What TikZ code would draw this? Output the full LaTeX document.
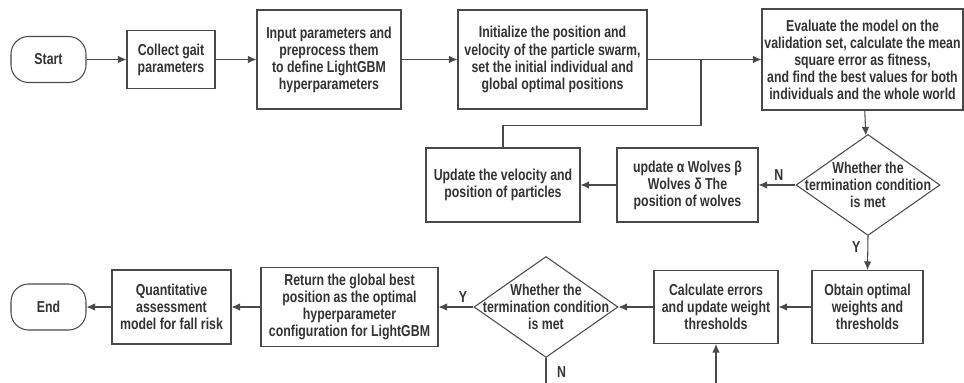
\documentclass[tikz,border=0pt]{standalone}
\usepackage{fontspec}
\setmainfont{Liberation Sans}[FakeStretch=0.78]
\usepackage{tikz}
\usetikzlibrary{arrows.meta,calc,positioning,shapes.geometric}
\definecolor{Ink}{HTML}{333333}
\definecolor{Edge}{HTML}{4A4A4A}

\begin{document}
\begin{tikzpicture}[
      box/.style={draw=Edge,line width=0.6pt,align=center,inner sep=0pt,text=Ink,
        font=\bfseries\fontsize{9}{9.7}\selectfont},
      term/.style={box,rounded corners=10pt,minimum width=1.5cm,minimum height=0.92cm},
      decision/.style={diamond,draw=Edge,line width=0.6pt,inner sep=0pt,
        minimum width=2.88cm,minimum height=2.02cm},
      dtext/.style={align=center,inner sep=0pt,text=Ink,font=\bfseries\fontsize{9}{9.7}\selectfont},
      lbl/.style={text=Ink,inner sep=1pt,font=\bfseries\fontsize{9}{9.7}\selectfont},
      flow/.style={Edge,line width=0.6pt,-{Latex[length=1.7mm,width=1.5mm]}},
      wire/.style={Edge,line width=0.6pt}]
      \useasboundingbox (0,0) rectangle (19.28,-7.66);
      % top row
      \node[term] (start) at (0.97,-1.19) {Start};
      \node[box,minimum width=1.76cm,minimum height=1.16cm] (gait) at (3.42,-1.19)
        {Collect gait\\parameters};
      \node[box,minimum width=2.88cm,minimum height=1.98cm] (prep) at (6.58,-1.19)
        {Input parameters and\\preprocess them\\to define LightGBM\\hyperparameters};
      \node[box,minimum width=3.78cm,minimum height=1.98cm] (init) at (11.05,-1.19)
        {Initialize the position and\\velocity of the particle swarm,\\set the initial individual and\\global optimal positions};
      \node[box,minimum width=4.02cm,minimum height=2.02cm] (eval) at (17.25,-1.19)
        {Evaluate the model on the\\validation set, calculate the mean\\square error as fitness,\\and find the best values for both\\individuals and the whole world};
      % middle row
      \node[box,minimum width=3.08cm,minimum height=1.48cm] (vel) at (10.06,-3.70)
        {Update the velocity and\\position of particles};
      \node[box,minimum width=2.82cm,minimum height=1.48cm] (wolf) at (13.75,-3.70)
        {update α Wolves β\\Wolves δ The\\position of wolves};
      \node[decision] (stop1) at (17.36,-3.70) {};
      \node[dtext] (stop1t) at (stop1) {Whether the\\termination condition\\is met};
      % bottom row
      \node[box,minimum width=2.22cm,minimum height=1.46cm] (weights) at (17.35,-6.14)
        {Obtain optimal\\weights and\\thresholds};
      \node[box,minimum width=2.48cm,minimum height=1.46cm] (err) at (14.32,-6.14)
        {Calculate errors\\and update weight\\thresholds};
      \node[decision] (stop2) at (10.92,-6.14) {};
      \node[dtext] (stop2t) at (stop2) {Whether the\\termination condition\\is met};
      \node[box,minimum width=3.54cm,minimum height=1.58cm] (best) at (6.99,-6.14)
        {Return the global best\\position as the optimal\\hyperparameter\\configuration for LightGBM};
      \node[box,minimum width=2.38cm,minimum height=1.48cm] (risk) at (3.43,-6.14)
        {Quantitative\\assessment\\model for fall risk};
      \node[term] (end) at (0.97,-6.14) {End};
      \coordinate (merge) at (14.02,-1.19);
      \coordinate (down) at (stop2 |- 0,-7.66);
      \coordinate (up) at (err |- 0,-7.66);
      % connectors
      \draw[flow] (start) -- (gait);
      \draw[flow] (gait) -- (prep);
      \draw[flow] (prep) -- (init);
      \draw[flow] (init) -- (eval);
      \draw[wire] (vel.north) -- ++(0,0.44) -| (merge);
      \draw[flow] (eval) -- (stop1);
      \draw[flow] (stop1.west) -- node[lbl,above=1pt,pos=0.45] {N} (wolf.east);
      \draw[flow] (wolf) -- (vel);
      \draw[flow] (stop1.south) -- node[lbl,left=3pt,pos=0.33] {Y} (weights.north);
      \draw[flow] (weights) -- (err);
      \draw[flow] (err.west) -- (stop2.east);
      \draw[flow] (stop2.west) -- node[lbl,above=1pt,pos=0.3] {Y} (best.east);
      \draw[flow] (best) -- (risk);
      \draw[flow] (risk) -- (end);
      \draw[wire] (stop2.south) -- node[lbl,right=5pt,pos=0.58] {N} (down);
      \draw[flow] (up) -- (err.south);
    \end{tikzpicture}
\end{document}
